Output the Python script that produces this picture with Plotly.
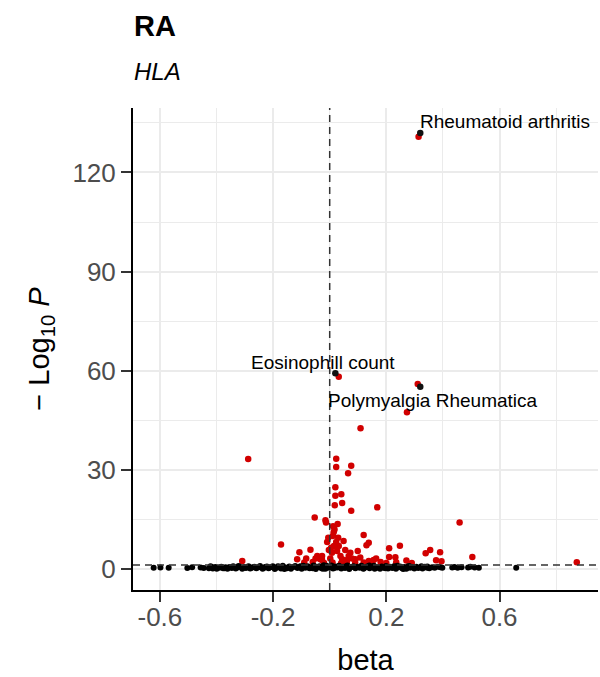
import plotly.graph_objects as go

# ---- data ----
# non-significant SNPs (black band)
black_x = [
    -0.622, -0.598, -0.569, -0.503, -0.486, -0.456, -0.445, -0.427, -0.421, -0.413,
    -0.404, -0.399, -0.391, -0.383, -0.377, -0.368, -0.361, -0.354, -0.346, -0.341,
    -0.332, -0.326, -0.318, -0.309, -0.303, -0.296, -0.287, -0.281, -0.274, -0.266,
    -0.259, -0.251, -0.246, -0.237, -0.231, -0.222, -0.216, -0.209, -0.201, -0.194,
    -0.188, -0.179, -0.172, -0.166, -0.157, -0.151, -0.143, -0.137, -0.128, -0.122,
    -0.114, -0.107, -0.099, -0.093, -0.086, -0.078, -0.071, -0.064, -0.057, -0.049,
    -0.043, -0.036, -0.029, -0.021, -0.015, -0.008, -0.002, 0.006, 0.012, 0.019,
    0.027, 0.033, 0.041, 0.048, 0.054, 0.063, 0.069, 0.076, 0.084, 0.091,
    0.097, 0.106, 0.112, 0.119, 0.127, 0.134, 0.141, 0.148, 0.156, 0.163,
    0.169, 0.178, 0.184, 0.191, 0.199, 0.206, 0.213, 0.221, 0.227, 0.234,
    0.242, 0.249, 0.256, 0.263, 0.271, 0.277, 0.284, 0.292, 0.299, 0.306,
    0.313, 0.321, 0.328, 0.336, 0.344, 0.352, 0.362, 0.371, 0.383, 0.391,
    0.398, 0.433, 0.441, 0.452, 0.466, 0.489, 0.497, 0.512, 0.527, 0.659,
    -0.415, -0.372, -0.322, -0.277, -0.228, -0.183, -0.139, -0.103, -0.074, -0.047,
    -0.024, -0.011, 0.003, 0.016, 0.031, 0.058, 0.088, 0.121, 0.159, 0.197,
    0.239, 0.281, 0.324, -0.300, -0.160, -0.060, 0.044, 0.140, 0.260, 0.345,
]
black_y = [
    0.45, 0.50, 0.42, 0.38, 0.55, 0.47, 0.35, 0.30, 0.85, 0.20,
    0.62, 0.15, 0.40, 0.75, 0.25, 0.55, 0.10, 0.68, 0.33, 0.90,
    0.22, 0.48, 0.72, 0.12, 0.58, 0.36, 0.85, 0.18, 0.52, 0.70,
    0.28, 0.60, 0.95, 0.14, 0.44, 0.78, 0.26, 0.55, 0.88, 0.08,
    0.40, 0.72, 0.20, 1.02, 0.50, 0.30, 0.82, 0.12, 0.62, 0.95,
    0.35, 0.70, 0.15, 1.05, 0.45, 0.85, 0.25, 0.60, 1.10, 0.05,
    0.55, 0.92, 0.30, 1.15, 0.10, 0.65, 0.40, 1.08, 0.20, 0.80,
    0.50, 1.00, 0.18, 0.72, 0.38, 1.12, 0.08, 0.62, 0.90, 0.28,
    0.75, 0.42, 1.05, 0.15, 0.58, 0.88, 0.25, 0.68, 1.00, 0.35,
    0.60, 0.12, 0.82, 0.45, 0.95, 0.22, 0.70, 0.38, 0.90, 0.10,
    0.55, 0.78, 0.28, 0.65, 0.15, 0.85, 0.40, 0.62, 0.20, 0.75,
    0.35, 0.55, 0.18, 0.70, 0.42, 0.30, 0.60, 0.45, 0.72, 0.55,
    0.40, 0.50, 0.62, 0.45, 0.58, 0.48, 0.70, 0.52, 0.42, 0.40,
    0.60, 0.30, 0.95, 0.45, 0.65, 0.90, 0.40, 0.85, 0.50, 0.75,
    0.15, 1.00, 0.60, 0.35, 0.85, 0.92, 0.50, 0.30, 0.12, 0.25,
    1.00, 0.95, 0.85, 0.60, 0.05, 0.30, 0.60, 1.10, 0.05, 0.80,
]

# significant SNPs (red)
red_x = [
    0.314, 0.032, 0.311, 0.273, 0.109, -0.288, 0.023, 0.023, 0.076, 0.065,
    0.020, 0.020, 0.041, 0.018, 0.044, 0.076, 0.168, 0.459, -0.053, -0.015,
    -0.013, 0.028, 0.120, 0.014, 0.011, -0.009, 0.023, 0.138, 0.130, 0.248,
    0.210, 0.355, 0.339, 0.390, 0.504, 0.873, 0.210, 0.232, 0.271, 0.376,
    0.395, 0.164, 0.099, -0.068, -0.172, -0.309, -0.107, -0.115, -0.083, -0.044,
    -0.033, 0.049, 0.026, 0.038, 0.055, 0.067, 0.079, 0.108, 0.138, -0.027,
    -0.050, 0.002, -0.003, 0.008, 0.032, 0.044, 0.073, 0.091, 0.061, 0.155,
    -0.027, -0.090, -0.060, -0.020, 0.010, 0.040, 0.060, 0.090, 0.120, 0.150,
    0.180, 0.200, 0.235, 0.290, 0.005, 0.015, -0.005, 0.030, 0.017, 0.012,
]
red_y = [
    130.8, 58.2, 56.0, 47.5, 42.6, 33.3, 33.4, 30.9, 31.3, 29.0,
    24.8, 22.2, 22.7, 19.3, 20.0, 17.7, 18.7, 14.1, 15.6, 14.8,
    14.1, 13.7, 10.3, 11.2, 10.0, 8.2, 8.2, 8.0, 7.2, 7.1,
    6.3, 5.8, 4.8, 5.1, 3.7, 2.1, 3.7, 3.6, 2.6, 2.7,
    2.4, 3.2, 5.5, 5.9, 7.5, 2.5, 5.1, 3.0, 3.2, 4.0,
    3.0, 8.5, 5.5, 4.0, 5.8, 4.0, 3.2, 3.5, 2.5, 2.8,
    3.2, 3.2, 5.8, 5.0, 7.0, 3.0, 5.0, 3.0, 2.8, 2.8,
    4.0, 2.0, 2.2, 1.9, 2.0, 1.8, 2.1, 1.9, 2.0, 1.8,
    2.2, 1.9, 2.1, 1.9, 6.5, 7.0, 9.5, 9.5, 12.0, 13.0,
]

# labelled traits (black highlighted points)
lab_x = [0.320, 0.020, 0.320]
lab_y = [131.9, 59.3, 55.2]
lab_text = ["Rheumatoid arthritis", "Eosinophill count", "Polymyalgia Rheumatica"]
# label placement (pixel offsets relative to the point)
lab_anchor = ["left", "center", "center"]
lab_xshift = [-2, -12, 13]
lab_yshift = [12, 11, -14]

p_threshold = 1.3  # -log10(0.05)
x_ticks = [-0.6, -0.2, 0.2, 0.6]
x_minor = [-0.4, 0.0, 0.4, 0.8]
y_ticks = [0, 30, 60, 90, 120]
y_minor = [15, 45, 75, 105, 135]

FONT = "Liberation Sans, Arial, Helvetica, sans-serif"

fig = go.Figure()
fig.add_trace(go.Scatter(x=red_x, y=red_y, mode="markers",
                         marker=dict(color="#d10000", size=6.5, line=dict(width=0)),
                         hoverinfo="skip", showlegend=False))
fig.add_trace(go.Scatter(x=black_x, y=black_y, mode="markers",
                         marker=dict(color="black", size=6, line=dict(width=0)),
                         hoverinfo="skip", showlegend=False))
fig.add_trace(go.Scatter(x=lab_x, y=lab_y, mode="markers",
                         marker=dict(color="#111111", size=6.5, line=dict(width=0)),
                         hoverinfo="skip", showlegend=False))

for x, y, t, a, xs, ys in zip(lab_x, lab_y, lab_text, lab_anchor, lab_xshift, lab_yshift):
    fig.add_annotation(x=x, y=y, text=t, showarrow=False, xanchor=a, yanchor="middle",
                       xshift=xs, yshift=ys, font=dict(size=19, color="black", family=FONT))

# reference lines
fig.add_hline(y=p_threshold, line=dict(color="#333333", width=1.5, dash="7px,5px"), layer="above")
fig.add_vline(x=0, line=dict(color="#333333", width=1.5, dash="7px,5px"), layer="above")

# title & subtitle
fig.add_annotation(xref="paper", yref="paper", x=0, y=1.170, xanchor="left", yanchor="middle",
                   text="<b>RA</b>", showarrow=False, xshift=-1,
                   font=dict(size=29, color="black", family=FONT))
fig.add_annotation(xref="paper", yref="paper", x=0, y=1.075, xanchor="left", yanchor="middle",
                   text="<i>HLA</i>", showarrow=False, xshift=-1,
                   font=dict(size=24, color="black", family=FONT))

grid = "#ebebeb"
fig.update_layout(
    width=600, height=677,
    margin=dict(l=133, r=2, t=108, b=87),
    paper_bgcolor="white", plot_bgcolor="white",
    font=dict(family=FONT),
    xaxis=dict(
        range=[-0.695, 0.948], tickvals=x_ticks, ticktext=["-0.6", "-0.2", "0.2", "0.6"],
        showgrid=True, gridcolor=grid, gridwidth=2,
        minor=dict(tickvals=x_minor, showgrid=True, gridcolor=grid, gridwidth=1),
        showline=True, linecolor="black", linewidth=2, zeroline=False,
        ticks="outside", ticklen=10, tickwidth=2, tickcolor="#333333",
        ticklabelstandoff=-7,
        tickfont=dict(size=26, color="#4d4d4d", family=FONT),
        title=dict(text="beta", font=dict(size=29, color="black", family=FONT), standoff=18),
    ),
    yaxis=dict(
        range=[-6.3, 139.5], tickvals=y_ticks,
        showgrid=True, gridcolor=grid, gridwidth=2,
        minor=dict(tickvals=y_minor, showgrid=True, gridcolor=grid, gridwidth=1),
        showline=True, linecolor="black", linewidth=2, zeroline=False,
        ticks="outside", ticklen=10, tickwidth=2, tickcolor="#333333",
        tickfont=dict(size=26, color="#4d4d4d", family=FONT),
        title=dict(text="\u2212 Log<sub>10</sub> <i>P</i>",
                   font=dict(size=29, color="black", family=FONT), standoff=14),
    ),
)

fig.write_html("out.html", config={"displayModeBar": False},
               post_script="document.body.style.margin='0';document.body.style.overflow='hidden';")
